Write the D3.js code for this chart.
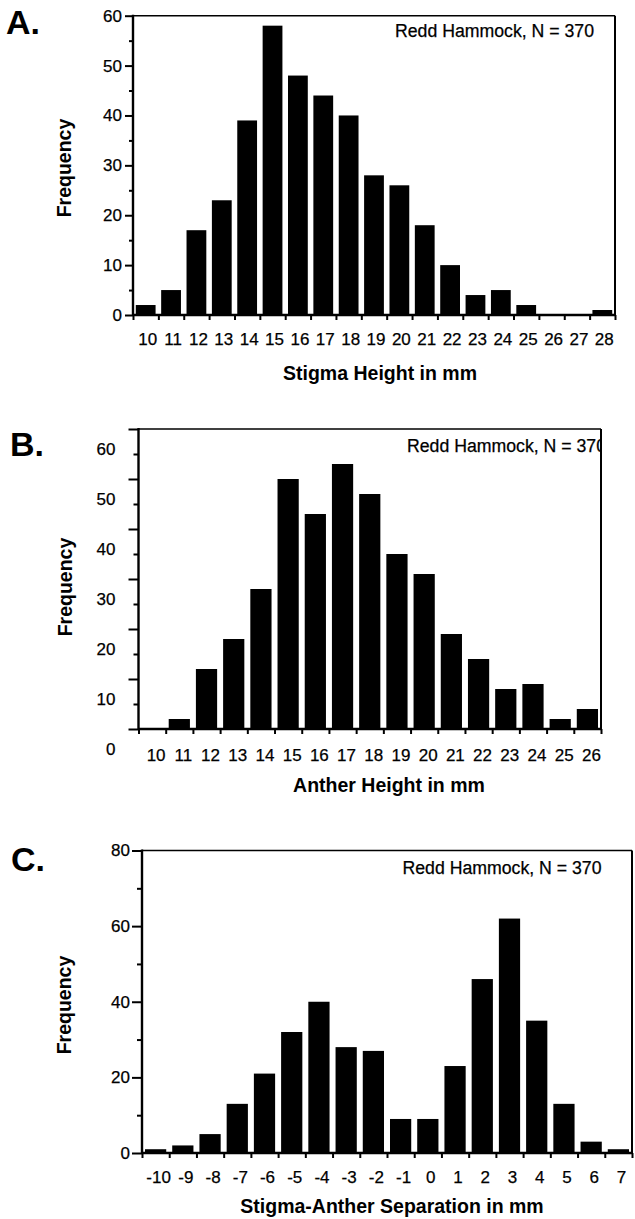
<!DOCTYPE html>
<html><head><meta charset="utf-8">
<script src="https://cdn.jsdelivr.net/npm/d3@7"></script>
<style>
body{margin:0;background:#fff}
svg{display:block}
text{font-family:"Liberation Sans",Arial,Helvetica,sans-serif;fill:#000}
text.reg{stroke:#000;stroke-width:0.25}
</style>
</head><body>
<svg id="chart" width="635" height="1219"></svg>
<script>
// ---- data ----
const stigmaCats = [10,11,12,13,14,15,16,17,18,19,20,21,22,23,24,25,26,27,28];
const stigmaFreq = [2,5,17,23,39,58,48,44,40,28,26,18,10,4,5,2,0,0,1];
const antherCats = [10,11,12,13,14,15,16,17,18,19,20,21,22,23,24,25,26];
const antherFreq = [0,2,12,18,28,50,43,53,47,35,31,19,14,8,9,2,4];
const sepCats = [-10,-9,-8,-7,-6,-5,-4,-3,-2,-1,0,1,2,3,4,5,6,7];
const sepFreq = [1,2,5,13,21,32,40,28,27,9,9,23,46,62,35,13,3,1];
const majorTicksA = [0,10,20,30,40,50,60];
const minorTicksA = [5,15,25,35,45,55];
const majorTicksB = [0,10,20,30,40,50,60];
const minorTicksB = [5,15,25,35,45,55];
const majorTicksC = [0,20,40,60,80];
const minorTicksC = [10,30,50,70];
const note = "Redd Hammock, N = 370";
const yTitle = "Frequency";

// ---- layout ----
const panels = [
  {letter:"A.", cats:stigmaCats, vals:stigmaFreq, yMax:60, major:majorTicksA, minor:minorTicksA,
   xTitle:"Stigma Height in mm",
   box:{l:133,r:615,t:15.7,b:315}, letterPos:[6,34], notePos:[594,37], titlePos:[380,380],
   ylabPos:[71,168], xlabBase:345, labDx:2, yLabPad:3, yLabShift:0, majorLen:8, minorLen:4, clip:false},
  {letter:"B.", cats:antherCats, vals:antherFreq, yMax:60, major:majorTicksB, minor:minorTicksB,
   xTitle:"Anther Height in mm",
   box:{l:138.5,r:601,t:429,b:729}, letterPos:[10,456], notePos:[606,452], titlePos:[389,792],
   ylabPos:[72,587], xlabBase:761, labDx:4, yLabPad:13, yLabShift:20, majorLen:10, minorLen:5, clip:true},
  {letter:"C.", cats:sepCats, vals:sepFreq, yMax:80, major:majorTicksC, minor:minorTicksC,
   xTitle:"Stigma-Anther Separation in mm",
   box:{l:142,r:632,t:850.5,b:1153}, letterPos:[11,871], notePos:[601.5,874], titlePos:[392,1213],
   ylabPos:[71,1005], xlabBase:1182.5, labDx:3, yLabPad:2, yLabShift:0, majorLen:10, minorLen:5, clip:false}
];

const svg = d3.select("#chart");
const defs = svg.append("defs");

panels.forEach((p, i) => {
  const {l, r, t, b} = p.box;
  const g = svg.append("g");
  const x = d3.scaleBand().domain(p.cats).range([l, r]).paddingInner(0.22).paddingOuter(0.11);
  const xl = d3.scaleLinear().domain([0, p.cats.length]).range([l, r]);
  const y = d3.scaleLinear().domain([0, p.yMax]).range([b, t]);

  // bars
  g.selectAll("rect.bar").data(p.cats.map((c, k) => ({c, v: p.vals[k]})))
    .enter().append("rect").attr("class", "bar")
    .attr("x", d => x(d.c)).attr("width", x.bandwidth())
    .attr("y", d => y(d.v)).attr("height", d => y(0) - y(d.v))
    .attr("fill", "#000");

  // y axis major
  const ya = g.append("g").attr("transform", `translate(${l},0)`)
    .call(d3.axisLeft(y).tickValues(p.major).tickSize(p.majorLen).tickPadding(p.yLabPad));
  ya.select(".domain").remove();
  ya.selectAll("line").attr("stroke", "#000").attr("stroke-width", 2);
  ya.selectAll("text").attr("class", "reg").attr("font-size", 17)
    .attr("transform", `translate(0,${p.yLabShift})`);
  const ym = g.append("g").attr("transform", `translate(${l},0)`)
    .call(d3.axisLeft(y).tickValues(p.minor).tickSize(p.minorLen).tickFormat(""));
  ym.select(".domain").remove();
  ym.selectAll("line").attr("stroke", "#000").attr("stroke-width", 2);

  // x ticks at bin boundaries
  const xt = g.append("g").attr("transform", `translate(0,${b})`)
    .call(d3.axisBottom(xl).tickValues(d3.range(p.cats.length + 1)).tickSize(5).tickFormat(""));
  xt.select(".domain").remove();
  xt.selectAll("line").attr("stroke", "#000").attr("stroke-width", 2);

  // x labels
  const xa = g.append("g").attr("transform", `translate(0,${b})`)
    .call(d3.axisBottom(x).tickSize(0));
  xa.select(".domain").remove();
  xa.selectAll("text").attr("class", "reg").attr("font-size", 17).attr("dy", null)
    .attr("y", p.xlabBase - b).attr("dx", p.labDx);

  // frame
  g.append("line").attr("x1", l).attr("x2", l).attr("y1", t - 1).attr("y2", b + 1)
    .attr("stroke", "#000").attr("stroke-width", 2.4);
  g.append("line").attr("x1", l).attr("x2", r).attr("y1", b).attr("y2", b)
    .attr("stroke", "#000").attr("stroke-width", 2.4);
  g.append("line").attr("x1", l).attr("x2", r).attr("y1", t).attr("y2", t)
    .attr("stroke", "#000").attr("stroke-width", 1.6);
  g.append("line").attr("x1", r).attr("x2", r).attr("y1", t).attr("y2", b + 1)
    .attr("stroke", "#000").attr("stroke-width", 2);

  // annotation
  const nt = g.append("text").attr("class", "reg").attr("x", p.notePos[0]).attr("y", p.notePos[1])
    .attr("text-anchor", "end").attr("font-size", 18)
    .attr("textLength", 199).attr("lengthAdjust", "spacingAndGlyphs").text(note);
  if (p.clip) {
    defs.append("clipPath").attr("id", "clip" + i).append("rect")
      .attr("x", l).attr("y", t).attr("width", r - l - 1).attr("height", b - t);
    nt.attr("clip-path", `url(#clip${i})`);
  }

  // titles
  g.append("text").attr("x", p.titlePos[0]).attr("y", p.titlePos[1])
    .attr("text-anchor", "middle").attr("font-size", 19.5).attr("font-weight", "bold").text(p.xTitle);
  g.append("text").attr("transform", `translate(${p.ylabPos[0]},${p.ylabPos[1]}) rotate(-90)`)
    .attr("text-anchor", "middle").attr("font-size", 19.5).attr("font-weight", "bold").text(yTitle);
  g.append("text").attr("x", p.letterPos[0]).attr("y", p.letterPos[1])
    .attr("font-size", 34).attr("font-weight", "bold").text(p.letter);
});
</script>
</body></html>
